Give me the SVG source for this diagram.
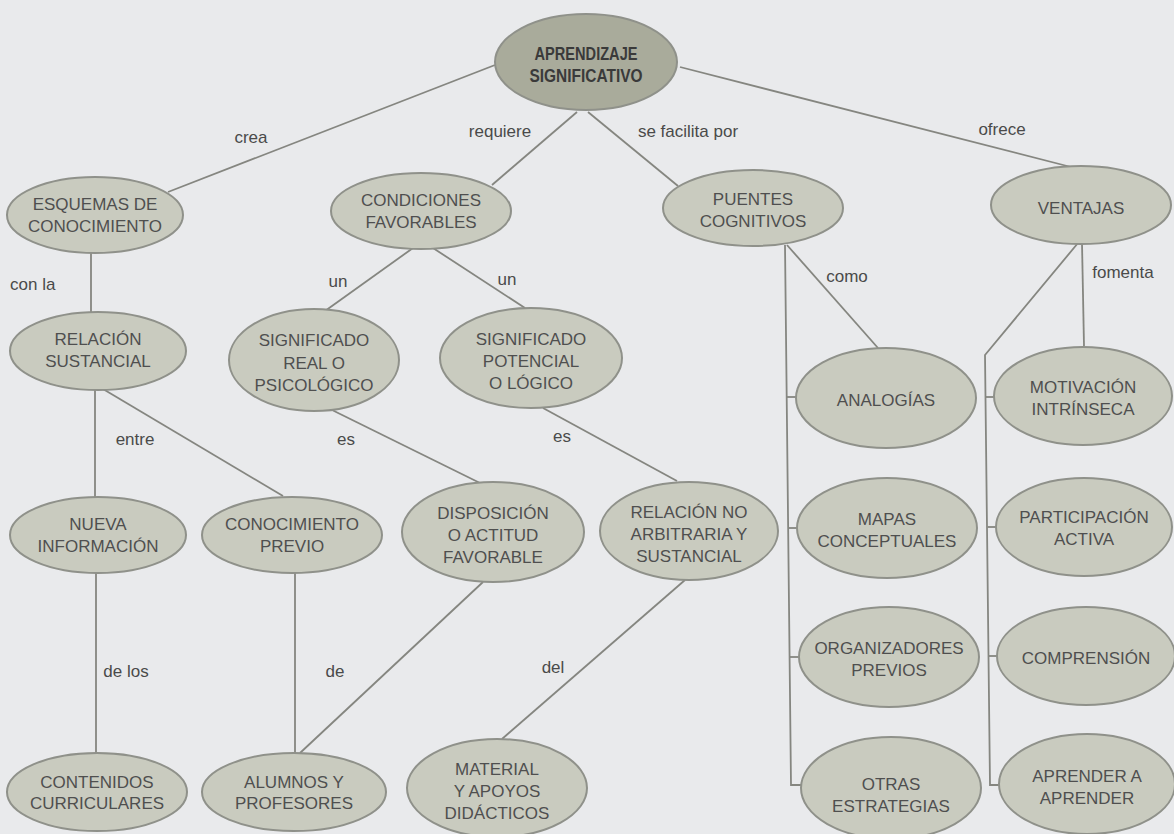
<svg xmlns="http://www.w3.org/2000/svg" width="1174" height="834" viewBox="0 0 1174 834">
<style>
.bg{fill:#e9eaec}
.node ellipse{fill:#c9cbbf;stroke:#8f918a;stroke-width:2}
.node text{font-family:"Liberation Sans",Arial,sans-serif;font-size:17px;fill:#4f4f4f;text-anchor:middle}
#n-apr ellipse{fill:#a9ab9b}
#n-apr text{font-weight:bold;font-size:18px;fill:#3a3a3a}
.edges path,.edges line{stroke:#858680;stroke-width:1.8;fill:none}
.lbl{font-family:"Liberation Sans",Arial,sans-serif;font-size:17px;fill:#4a4a4a;text-anchor:middle}
</style>
<rect class="bg" x="0" y="0" width="1174" height="834"/>
<g id="connectors" class="edges">
<line x1="495" y1="65" x2="168" y2="192"/>
<line x1="577" y1="112" x2="492" y2="185"/>
<line x1="588" y1="112" x2="678" y2="186"/>
<line x1="680" y1="67" x2="1071" y2="167"/>
<line x1="91" y1="253" x2="91" y2="312"/>
<line x1="413" y1="248" x2="325" y2="311"/>
<line x1="433" y1="248" x2="525" y2="308"/>
<line x1="95" y1="390" x2="95" y2="497"/>
<line x1="103" y1="389" x2="283" y2="496"/>
<line x1="330" y1="409" x2="480" y2="483"/>
<line x1="543" y1="408" x2="677" y2="481"/>
<line x1="96" y1="573" x2="96" y2="753"/>
<line x1="295" y1="573" x2="295" y2="753"/>
<line x1="483" y1="582" x2="300" y2="753"/>
<line x1="685" y1="580" x2="502" y2="739"/>
<line x1="787" y1="245" x2="878" y2="348"/>
<path d="M785,245 L791,785 L803,785"/>
<line x1="787" y1="397" x2="797" y2="397"/>
<line x1="788.5" y1="528" x2="798" y2="528"/>
<line x1="790" y1="657" x2="800" y2="657"/>
<line x1="1082" y1="243" x2="1084" y2="346"/>
<path d="M1078,243 L985,355 L990,785 L1000,785"/>
<line x1="986" y1="397" x2="995" y2="397"/>
<line x1="987.5" y1="527" x2="997" y2="527"/>
<line x1="989" y1="656" x2="998" y2="656"/>
</g>
<g id="labels">
<text class="lbl" x="251" y="143">crea</text>
<text class="lbl" x="500" y="137">requiere</text>
<text class="lbl" x="688" y="137">se facilita por</text>
<text class="lbl" x="1002" y="135">ofrece</text>
<text class="lbl" x="10" y="290" style="text-anchor:start">con la</text>
<text class="lbl" x="338" y="287">un</text>
<text class="lbl" x="507" y="285">un</text>
<text class="lbl" x="847" y="282">como</text>
<text class="lbl" x="1123" y="278">fomenta</text>
<text class="lbl" x="135" y="445">entre</text>
<text class="lbl" x="346" y="445">es</text>
<text class="lbl" x="562" y="442">es</text>
<text class="lbl" x="126" y="677">de los</text>
<text class="lbl" x="335" y="677">de</text>
<text class="lbl" x="553" y="673">del</text>
</g>
<g id="n-apr" class="node"><ellipse cx="586" cy="62" rx="91" ry="48"/><text x="586" y="60" textLength="103" lengthAdjust="spacingAndGlyphs">APRENDIZAJE</text><text x="586" y="82" textLength="113" lengthAdjust="spacingAndGlyphs">SIGNIFICATIVO</text></g>
<g id="n-esq" class="node"><ellipse cx="95" cy="215" rx="88" ry="38"/><text x="95" y="210">ESQUEMAS DE</text><text x="95" y="232">CONOCIMIENTO</text></g>
<g id="n-cond" class="node"><ellipse cx="421" cy="211" rx="90" ry="38"/><text x="421" y="206">CONDICIONES</text><text x="421" y="228">FAVORABLES</text></g>
<g id="n-puen" class="node"><ellipse cx="753" cy="208" rx="90" ry="38"/><text x="753" y="205">PUENTES</text><text x="753" y="227">COGNITIVOS</text></g>
<g id="n-vent" class="node"><ellipse cx="1081" cy="205" rx="90" ry="39"/><text x="1081" y="214">VENTAJAS</text></g>
<g id="n-rel" class="node"><ellipse cx="98" cy="351" rx="88" ry="39"/><text x="98" y="345">RELACIÓN</text><text x="98" y="367">SUSTANCIAL</text></g>
<g id="n-sreal" class="node"><ellipse cx="314" cy="360" rx="85" ry="51"/><text x="314" y="346">SIGNIFICADO</text><text x="314" y="369">REAL O</text><text x="314" y="391">PSICOLÓGICO</text></g>
<g id="n-spot" class="node"><ellipse cx="531" cy="358" rx="91" ry="50"/><text x="531" y="345">SIGNIFICADO</text><text x="531" y="367">POTENCIAL</text><text x="531" y="389">O LÓGICO</text></g>
<g id="n-anal" class="node"><ellipse cx="886" cy="398" rx="90" ry="50"/><text x="886" y="406">ANALOGÍAS</text></g>
<g id="n-motiv" class="node"><ellipse cx="1083" cy="396" rx="89" ry="49"/><text x="1083" y="393">MOTIVACIÓN</text><text x="1083" y="415">INTRÍNSECA</text></g>
<g id="n-nueva" class="node"><ellipse cx="98" cy="535" rx="88" ry="38"/><text x="98" y="530">NUEVA</text><text x="98" y="552">INFORMACIÓN</text></g>
<g id="n-cprev" class="node"><ellipse cx="292" cy="535" rx="90" ry="38"/><text x="292" y="530">CONOCIMIENTO</text><text x="292" y="552">PREVIO</text></g>
<g id="n-disp" class="node"><ellipse cx="493" cy="532" rx="91" ry="50"/><text x="493" y="519">DISPOSICIÓN</text><text x="493" y="541">O ACTITUD</text><text x="493" y="563">FAVORABLE</text></g>
<g id="n-rnoarb" class="node"><ellipse cx="689" cy="531" rx="89" ry="49"/><text x="689" y="518">RELACIÓN NO</text><text x="689" y="540">ARBITRARIA Y</text><text x="689" y="562">SUSTANCIAL</text></g>
<g id="n-mapas" class="node"><ellipse cx="887" cy="528" rx="90" ry="50"/><text x="887" y="525">MAPAS</text><text x="887" y="547">CONCEPTUALES</text></g>
<g id="n-part" class="node"><ellipse cx="1084" cy="527" rx="88" ry="49"/><text x="1084" y="523">PARTICIPACIÓN</text><text x="1084" y="545">ACTIVA</text></g>
<g id="n-org" class="node"><ellipse cx="889" cy="657" rx="90" ry="50"/><text x="889" y="654">ORGANIZADORES</text><text x="889" y="676">PREVIOS</text></g>
<g id="n-comp" class="node"><ellipse cx="1086" cy="656" rx="89" ry="49"/><text x="1086" y="664">COMPRENSIÓN</text></g>
<g id="n-otras" class="node"><ellipse cx="891" cy="788" rx="90" ry="51"/><text x="891" y="790">OTRAS</text><text x="891" y="812">ESTRATEGIAS</text></g>
<g id="n-aprender" class="node"><ellipse cx="1087" cy="784" rx="88" ry="50"/><text x="1087" y="782">APRENDER A</text><text x="1087" y="804">APRENDER</text></g>
<g id="n-cont" class="node"><ellipse cx="97" cy="792" rx="90" ry="39"/><text x="97" y="788">CONTENIDOS</text><text x="97" y="809">CURRICULARES</text></g>
<g id="n-alum" class="node"><ellipse cx="294" cy="792" rx="92" ry="39"/><text x="294" y="788">ALUMNOS Y</text><text x="294" y="809">PROFESORES</text></g>
<g id="n-mat" class="node"><ellipse cx="497" cy="788" rx="90" ry="49"/><text x="497" y="775">MATERIAL</text><text x="497" y="797">Y APOYOS</text><text x="497" y="819">DIDÁCTICOS</text></g>
</svg>
